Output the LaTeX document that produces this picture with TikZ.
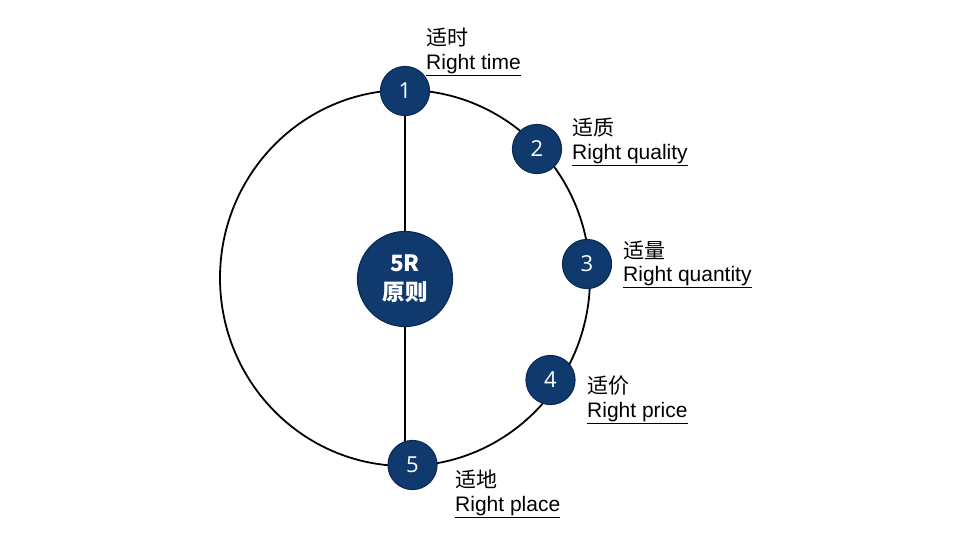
\documentclass[tikz,border=0pt]{standalone}
\usepackage{fontspec}
\setmainfont{Liberation Sans}
\newfontfamily\cjk{Noto Sans CJK SC}
\newfontfamily\numfont{Open Sans}
\usetikzlibrary{backgrounds}
\definecolor{navy}{RGB}{16,58,110}
\definecolor{navyedge}{RGB}{10,42,85}
\begin{document}
\begin{tikzpicture}[x=1pt,y=-1pt,
  numnode/.style={circle, fill=navy, draw=navyedge, line width=1.2pt, minimum size=49pt, inner sep=0pt, text=white, font=\numfont\fontsize{22}{22}\selectfont},
  hub/.style={circle, fill=navy, draw=navyedge, line width=1.2pt, minimum size=95pt, inner sep=0pt, text=white, align=center, font=\cjk\bfseries\fontsize{22.5}{29}\selectfont},
  lbl/.style={anchor=west, align=left, inner sep=0pt, font=\fontsize{21}{23.5}\selectfont},
  rim/.style={line width=1.8pt, black},
  spoke/.style={line width=1.4pt, black}]
\useasboundingbox (0,0) rectangle (975,543);

\node[hub] (hub) at (405,279) {5R\\原则};
\node[numnode] (n1) at (405,91) {1};
\node[numnode] (n2) at (537,149) {2};
\node[numnode] (n3) at (587,264) {3};
\node[numnode] (n4) at (550.5,380) {4};
\node[numnode] (n5) at (412.5,465) {5};

\begin{scope}[on background layer]
  \draw[rim] (405,278) ellipse [x radius=185, y radius=188];
  \draw[spoke] (hub) -- (n1);
  \draw[spoke] (hub.south) -- (hub.south |- n5.center);
\end{scope}

\node[lbl] (l1) at (426,52) {{\cjk 适时}\\\underline{Right time}};
\node[lbl] (l2) at (572,142) {{\cjk 适质}\\\underline{Right quality}};
\node[lbl] (l3) at (623,264.5) {{\cjk 适量}\\\underline{Right quantity}};
\node[lbl] (l4) at (587,400) {{\cjk 适价}\\\underline{Right price}};
\node[lbl] (l5) at (455,494) {{\cjk 适地}\\\underline{Right place}};
\end{tikzpicture}
\end{document}
